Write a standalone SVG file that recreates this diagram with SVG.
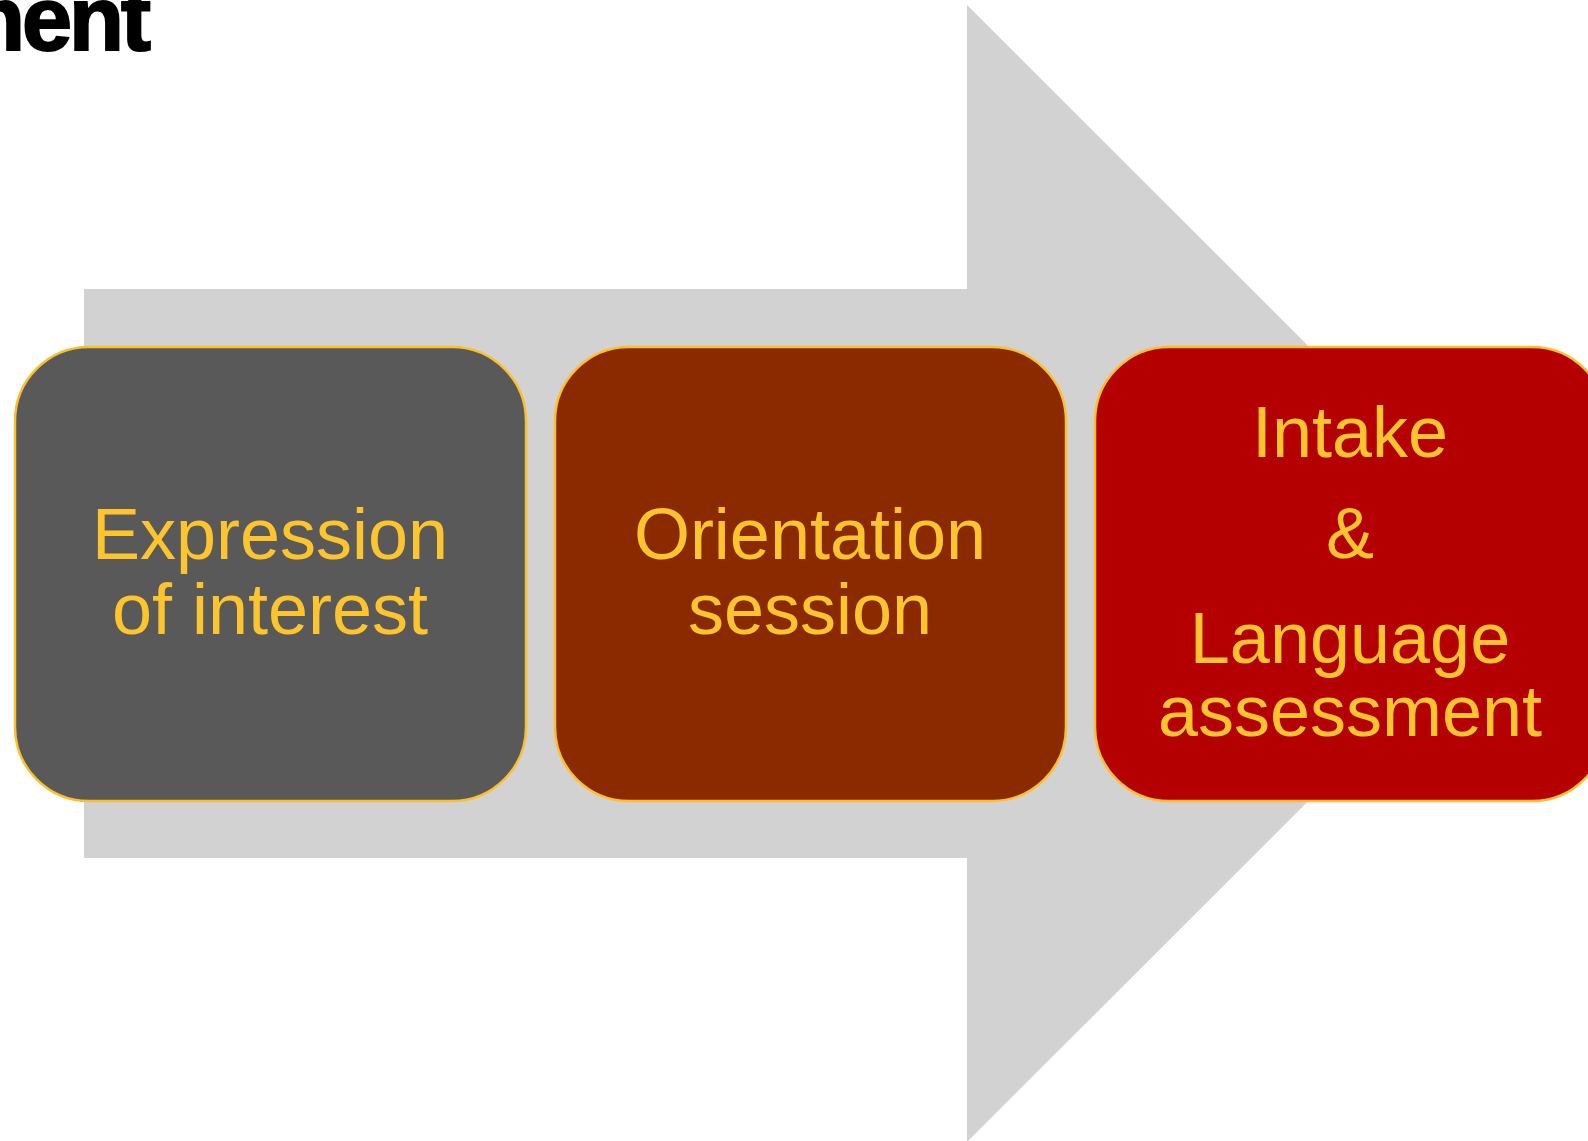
<svg xmlns="http://www.w3.org/2000/svg" width="1588" height="1141" viewBox="0 0 1588 1141">
<style>
.node{stroke:#FBC02D;stroke-width:2.5}
.lbl{font-family:"Liberation Sans",Arial,sans-serif;font-size:72px;fill:#FCC52E;text-anchor:middle}
.title{font-family:"Liberation Sans",Arial,sans-serif;font-weight:bold;font-size:90px;fill:#000;stroke:#000;stroke-width:2}
</style>
<rect width="1588" height="1141" fill="#fff"/>
<text class="title" x="148" y="50" text-anchor="end" letter-spacing="-3">ment</text>
<g id="connectors">
<polygon points="84,289 967,289 967,5 1536,573.5 967,1142 967,858 84,858" fill="#D2D2D2"/>
</g>
<g id="node1">
<rect class="node" x="15" y="347" width="511" height="454" rx="74" ry="74" fill="#595959"/>
<text class="lbl" x="270" y="559">Expression</text>
<text class="lbl" x="270" y="634">of interest</text>
</g>
<g id="node2">
<rect class="node" x="555" y="347" width="511" height="454" rx="74" ry="74" fill="#8B2A00"/>
<text class="lbl" x="810" y="559">Orientation</text>
<text class="lbl" x="810" y="634">session</text>
</g>
<g id="node3">
<rect class="node" x="1095" y="347" width="511" height="454" rx="74" ry="74" fill="#B40000"/>
<text class="lbl" x="1350" y="457">Intake</text>
<text class="lbl" x="1350" y="558">&amp;</text>
<text class="lbl" x="1350" y="663">Language</text>
<text class="lbl" x="1350" y="736">assessment</text>
</g>
</svg>
